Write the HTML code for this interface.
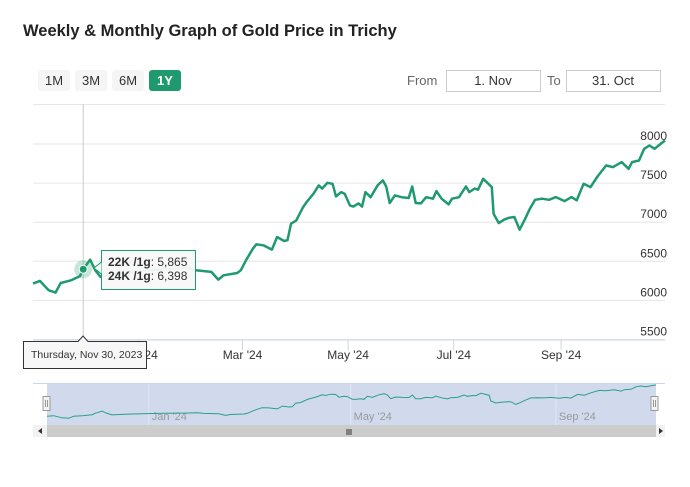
<!DOCTYPE html>
<html><head><meta charset="utf-8"><style>
body{margin:0;background:#fff;font-family:"Liberation Sans",Arial,sans-serif;}
</style></head><body>
<svg width="690" height="482" xmlns="http://www.w3.org/2000/svg" font-family="Liberation Sans, Arial, sans-serif">
<rect width="690" height="482" fill="#fff"/>
<text x="23" y="36" font-size="16.5" font-weight="bold" fill="#222">Weekly &amp; Monthly Graph of Gold Price in Trichy</text>
<g><rect x="38" y="70" width="32" height="21" rx="3" fill="#f5f5f5"/><text x="54" y="85" font-size="13" text-anchor="middle" fill="#333">1M</text></g>
<g><rect x="75" y="70" width="32" height="21" rx="3" fill="#f5f5f5"/><text x="91" y="85" font-size="13" text-anchor="middle" fill="#333">3M</text></g>
<g><rect x="112" y="70" width="32" height="21" rx="3" fill="#f5f5f5"/><text x="128" y="85" font-size="13" text-anchor="middle" fill="#333">6M</text></g>
<g><rect x="149" y="70" width="32" height="21" rx="3" fill="#1f9a6e"/><text x="165" y="85" font-size="13" font-weight="bold" text-anchor="middle" fill="#fff">1Y</text></g>
<text x="407" y="85" font-size="13" fill="#666">From</text>
<g><rect x="446.5" y="70.5" width="94" height="21" fill="#fff" stroke="#ccc"/><text x="493" y="85" font-size="13" text-anchor="middle" fill="#333">1. Nov</text></g>
<text x="547" y="85" font-size="13" fill="#666">To</text>
<g><rect x="566.5" y="70.5" width="94" height="21" fill="#fff" stroke="#ccc"/><text x="613" y="85" font-size="13" text-anchor="middle" fill="#333">31. Oct</text></g>
<g id="main"></g>
<g id="nav"></g>
</svg>
<script>
const days=[0,4,9,13,16,22,27,29,33,36,39,47,57,70,82,90,94,103,107,110,118,120,123,127,129,133,138,141,145,147,149,152,156,158,162,165,167,170,173,175,178,180,183,185,188,190,192,195,199,202,204,206,209,213,217,219,221,224,227,231,233,236,240,242,246,250,252,255,257,260,265,266,269,272,275,278,281,284,287,290,294,298,302,307,311,314,318,322,326,331,335,340,344,346,350,353,356,359,363,365];
const prices=[6215,6249,6130,6100,6223,6257,6308,6398,6521,6385,6300,6340,6360,6390,6405,6419,6385,6364,6266,6321,6351,6385,6513,6662,6717,6705,6649,6811,6760,6770,6981,7020,7193,7257,7364,7470,7430,7504,7490,7330,7385,7364,7215,7200,7240,7200,7385,7320,7470,7534,7457,7245,7343,7320,7310,7457,7245,7240,7320,7300,7398,7300,7228,7300,7320,7457,7385,7430,7415,7555,7449,7108,6989,7032,7057,7066,6904,7032,7172,7287,7300,7287,7321,7270,7321,7280,7491,7449,7585,7725,7704,7768,7683,7768,7789,7938,7981,7938,8011,8045];
const yTicks=[5500,6000,6500,7000,7500,8000];
const xTickLabels=["Jan '24","Mar '24","May '24","Jul '24","Sep '24"];
const xTickDays=[61,121,182,243,305];
const navTickLabels=["Jan '24","May '24","Sep '24"];
const navTickDays=[61,182,305];
const NS="http://www.w3.org/2000/svg";
function el(t,a,p){const e=document.createElementNS(NS,t);for(const k in a)e.setAttribute(k,a[k]);p.appendChild(e);return e;}
const x=d=>33+d/365*632;
const y=v=>339.5-(v-5500)/500*39.1;
const main=document.getElementById('main');
el('line',{x1:33,x2:665,y1:104.5,y2:104.5,stroke:'#e6e6e6'},main);
yTicks.forEach(v=>{
 const l=el('line',{x1:33,x2:665,y1:y(v),y2:y(v),stroke:'#e6e6e6'},main);
 
 
 const t=el('text',{x:667,y:y(v)-4,'font-size':12,'text-anchor':'end',fill:'#333'},main);t.textContent=v;
 
 
});
el('line',{x1:33,x2:665,y1:340,y2:340,stroke:'#ccd6eb'},main);
xTickDays.forEach((d,i)=>{
 el('line',{x1:x(d),x2:x(d),y1:340,y2:350,stroke:'#ccd6eb'},main);
 const t=el('text',{x:x(d),y:359,'font-size':12,'text-anchor':'middle',fill:'#333'},main);t.textContent=xTickLabels[i];
 
 
});
const pts=days.map((d,i)=>x(d).toFixed(1)+','+y(prices[i]).toFixed(1)).join(' ');
const line=el('polyline',{points:pts,fill:'none',stroke:'#1f9a6e','stroke-width':2.5,'stroke-linejoin':'round'},main);


const hx=x(days[7]),hy=y(prices[7]);
el('line',{x1:hx,x2:hx,y1:104,y2:340,stroke:'#ccc'},main);
el('circle',{cx:hx,cy:hy,r:9,fill:'#1f9a6e','fill-opacity':0.25},main);
el('circle',{cx:hx,cy:hy,r:4,fill:'#1f9a6e',stroke:'#fff','stroke-width':1},main);
const tip=el('g',{},main);


el('rect',{x:101.5,y:250.5,width:94,height:39,fill:'#f8f8f8','fill-opacity':0.95,stroke:'#1f9a6e'},tip);
el('path',{d:'M101.5 262 L94 268 L101.5 274',fill:'#f8f8f8',stroke:'#1f9a6e'},tip);
let t1=el('text',{x:108,y:266,'font-size':12,fill:'#333'},tip);t1.innerHTML='<tspan font-weight="bold">22K /1g</tspan>: 5,865';
let t2=el('text',{x:108,y:280,'font-size':12,fill:'#333'},tip);t2.innerHTML='<tspan font-weight="bold">24K /1g</tspan>: '+prices[7].toLocaleString('en-US');
const dt=el('g',{},main);


el('path',{d:'M23.5 341.5 H78 L83 336 L88 341.5 H146.5 V368.5 H23.5 Z',fill:'#f7f7f7',stroke:'#333'},dt);
let t3=el('text',{x:31,y:358,'font-size':10.5,fill:'#333'},dt);t3.textContent='Thursday, Nov 30, 2023';
const nav=document.getElementById('nav');
const nx=d=>47+d/365*609;
const ny=v=>420-(v-6000)/2100*36;
el('line',{x1:33,x2:665,y1:383.5,y2:383.5,stroke:'#ccd6eb'},nav);
const mask=el('rect',{x:47,y:384,width:609,height:41,fill:'#ccd6eb','fill-opacity':0.9},nav);


navTickDays.forEach((d,i)=>{
 el('line',{x1:nx(d),x2:nx(d),y1:384,y2:425,stroke:'#e0e6f0'},nav);
 const t=el('text',{x:nx(d)+3,y:420,'font-size':11,fill:'#999'},nav);t.textContent=navTickLabels[i];
 
 
});
const nl=el('polyline',{points:days.map((d,i)=>nx(d).toFixed(1)+','+ny(prices[i]).toFixed(1)).join(' '),fill:'none',stroke:'#2a9d8f','stroke-width':1},nav);


[47,655].forEach(hxx=>{
 const h=el('rect',{x:hxx-4,y:396.5,width:7,height:14,fill:'#f2f2f2',stroke:'#999'},nav);
 
 
 el('line',{x1:hxx-1.5,x2:hxx-1.5,y1:400,y2:407,stroke:'#999'},nav);
 el('line',{x1:hxx+0.5,x2:hxx+0.5,y1:400,y2:407,stroke:'#999'},nav);
});
el('rect',{x:33,y:425,width:632,height:12,fill:'#f2f2f2'},nav);
const th=el('rect',{x:47,y:425,width:609,height:12,fill:'#ccc'},nav);


[[347,429,435],[349,429,435],[351,429,435]].forEach(a=>el('line',{x1:a[0],x2:a[0],y1:a[1],y2:a[2],stroke:'#333'},nav));
el('path',{d:'M42 428 L38 431 L42 434 Z',fill:'#333'},nav);
el('path',{d:'M659 428 L663 431 L659 434 Z',fill:'#333'},nav);
</script>
</body></html>
